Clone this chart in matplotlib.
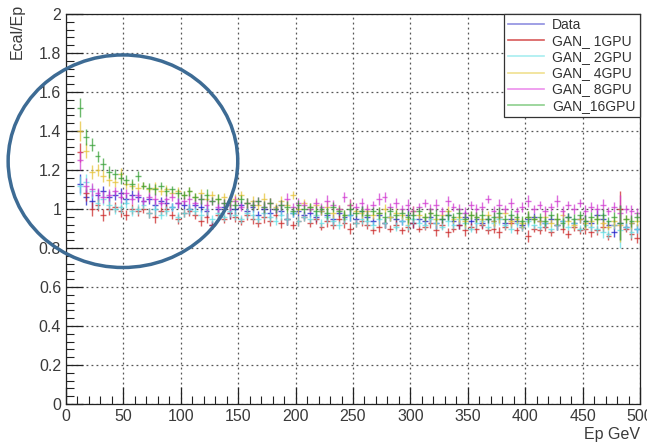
import numpy as np
import matplotlib
matplotlib.use("Agg")
import matplotlib.pyplot as plt
from matplotlib.patches import Ellipse
from matplotlib.lines import Line2D
from matplotlib.ticker import MultipleLocator

plt.rcParams['font.family'] = ['Liberation Sans Narrow', 'Liberation Sans', 'DejaVu Sans']

# bin centres, 5 GeV bins
ep = np.arange(12.5, 500, 5.0)
half_bin = 2.5

data = [1.13, 1.06, 1.04, 1.07, 1.09, 1.06, 1.07, 1.08, 1.05, 1.07,
        1.06, 1.04, 1.05, 1.02, 1.04, 1.03, 1.01, 1.03, 1.02, 1.00,
        1.02, 1.01, 0.99, 0.92, 1.00, 1.01, 0.98, 1.00, 1.02, 0.99,
        1.01, 0.97, 1.00, 0.98, 1.00, 0.99, 0.95, 0.98, 0.99, 0.97,
        0.98, 0.96, 0.99, 0.97, 0.95, 0.98, 0.96, 0.97, 0.95, 0.99,
        0.96, 0.94, 0.97, 0.93, 0.96, 0.95, 0.94, 0.97, 0.93, 0.95,
        0.94, 0.96, 0.93, 0.95, 0.97, 0.94, 0.92, 0.96, 0.94, 0.95,
        0.93, 0.95, 0.94, 0.96, 0.93, 0.95, 0.94, 0.92, 0.95, 0.96,
        0.94, 0.93, 0.95, 0.92, 0.94, 0.96, 0.93, 0.95, 0.94, 0.93,
        0.97, 0.95, 0.92, 0.88, 0.93, 0.91, 0.93, 0.90]

gan_1gpu = [1.29, 1.08, 1.00, 1.02, 0.97, 1.00, 1.01, 0.99, 0.97, 1.00,
            0.99, 1.00, 0.98, 0.96, 0.99, 1.00, 0.97, 0.95, 0.98, 0.99,
            0.97, 0.94, 0.96, 0.92, 0.97, 0.95, 0.98, 0.96, 0.94, 0.97,
            0.95, 0.93, 0.96, 0.94, 0.97, 0.93, 0.95, 0.92, 0.94, 0.96,
            0.93, 0.95, 0.91, 0.94, 0.92, 0.95, 0.93, 0.90, 0.93, 0.94,
            0.92, 0.89, 0.91, 0.93, 0.90, 0.92, 0.89, 0.91, 0.93, 0.90,
            0.91, 0.93, 0.89, 0.92, 0.88, 0.90, 0.92, 0.89, 0.91, 0.90,
            0.92, 0.89, 0.90, 0.88, 0.91, 0.93, 0.89, 0.91, 0.86, 0.90,
            0.89, 0.91, 0.88, 0.92, 0.90, 0.87, 0.91, 0.89, 0.90, 0.88,
            0.89, 0.91, 0.86, 0.92, 1.00, 0.90, 0.87, 0.85]

gan_2gpu = [1.12, 1.14, 1.09, 1.03, 1.05, 1.02, 1.00, 1.01, 1.03, 0.99,
            1.00, 1.02, 0.98, 1.00, 0.97, 0.99, 1.01, 0.96, 0.98, 1.00,
            0.99, 0.97, 1.00, 0.95, 0.98, 0.96, 0.99, 0.97, 0.95, 0.98,
            0.97, 0.95, 0.98, 0.96, 0.94, 0.97, 0.95, 0.98, 0.94, 0.96,
            0.95, 0.97, 0.93, 0.96, 0.94, 0.92, 0.95, 0.97, 0.93, 0.95,
            0.94, 0.92, 0.95, 0.93, 0.96, 0.91, 0.94, 0.92, 0.95, 0.93,
            0.92, 0.95, 0.93, 0.91, 0.94, 0.92, 0.95, 0.93, 0.90, 0.93,
            0.94, 0.91, 0.93, 0.95, 0.92, 0.90, 0.93, 0.91, 0.94, 0.92,
            0.91, 0.93, 0.90, 0.92, 0.94, 0.91, 0.93, 0.90, 0.92, 0.91,
            0.90, 0.88, 0.87, 0.92, 0.89, 0.91, 0.88, 0.90]

gan_4gpu = [1.40, 1.30, 1.19, 1.20, 1.17, 1.15, 1.14, 1.18, 1.13, 1.12,
            1.11, 1.12, 1.10, 1.11, 1.09, 1.10, 1.08, 1.09, 1.07, 1.09,
            1.06, 1.08, 1.05, 1.07, 1.05, 1.06, 1.04, 1.05, 1.07, 1.03,
            1.04, 1.02, 1.05, 1.03, 1.01, 1.04, 1.02, 1.07, 1.00, 1.03,
            1.01, 1.02, 0.99, 1.01, 0.98, 1.00, 0.97, 1.02, 0.99, 0.98,
            0.99, 0.97, 0.98, 1.00, 0.96, 0.98, 0.97, 0.95, 0.99, 0.97,
            0.96, 0.98, 0.95, 0.97, 0.99, 0.95, 0.96, 0.94, 0.97, 0.96,
            0.95, 0.97, 0.94, 0.96, 0.98, 0.94, 0.95, 0.93, 0.96, 0.95,
            0.94, 0.96, 0.93, 0.95, 0.97, 0.94, 0.92, 0.95, 0.93, 0.94,
            0.95, 0.93, 0.91, 0.94, 0.92, 0.95, 0.93, 0.94]

gan_8gpu = [1.25, 1.12, 1.10, 1.08, 1.06, 1.07, 1.09, 1.06, 1.08, 1.05,
            1.07, 1.04, 1.06, 1.05, 1.03, 1.05, 1.06, 1.03, 1.04, 1.05,
            1.03, 1.05, 1.02, 1.04, 1.01, 1.03, 1.02, 1.04, 1.01, 1.03,
            1.02, 1.04, 1.01, 1.03, 1.00, 1.02, 1.05, 1.01, 1.03, 1.02,
            1.00, 1.03, 1.01, 1.04, 1.02, 1.00, 1.06, 1.02, 1.01, 1.03,
            1.00, 1.02, 1.05, 1.06, 1.01, 1.03, 1.00, 1.02, 0.99, 1.01,
            1.03, 1.00, 1.02, 0.99, 1.04, 1.01, 1.00, 0.98, 1.02, 1.00,
            1.01, 1.05, 0.99, 1.02, 1.00, 1.03, 0.99, 1.01, 1.04, 1.00,
            1.02, 0.99, 1.01, 1.04, 0.99, 1.02, 1.00, 1.03, 0.99, 1.01,
            1.00, 1.02, 0.99, 1.01, 0.98, 1.00, 0.99, 0.98]

gan_16gpu = [1.52, 1.37, 1.33, 1.27, 1.23, 1.19, 1.18, 1.16, 1.15, 1.13,
             1.17, 1.12, 1.11, 1.10, 1.12, 1.09, 1.10, 1.08, 1.07, 1.09,
             1.06, 1.05, 1.07, 1.04, 1.05, 1.03, 1.04, 1.02, 1.05, 1.03,
             1.02, 1.04, 1.01, 1.03, 1.00, 1.02, 1.01, 0.99, 1.02, 1.00,
             1.01, 0.99, 1.00, 0.98, 1.01, 0.99, 0.97, 1.00, 0.98, 0.99,
             0.97, 0.99, 0.98, 0.96, 0.99, 0.97, 0.98, 0.96, 0.97, 0.99,
             0.96, 0.98, 0.97, 0.95, 0.97, 0.96, 0.98, 0.95, 0.97, 0.96,
             0.97, 0.95, 0.96, 0.98, 0.95, 0.97, 0.96, 0.94, 0.96, 0.95,
             0.96, 0.94, 0.97, 0.95, 0.93, 0.96, 0.95, 0.97, 0.94, 0.96,
             0.95, 0.97, 0.94, 0.96, 0.93, 0.95, 0.94, 0.96]

# shared vertical error per bin
err = [0.05, 0.04, 0.035, 0.03, 0.03, 0.03, 0.025, 0.03, 0.025, 0.025,
       0.025, 0.02, 0.025, 0.03, 0.02, 0.025, 0.02, 0.025, 0.02, 0.025,
       0.02, 0.025, 0.03, 0.02, 0.025, 0.02, 0.03, 0.025, 0.02, 0.025,
       0.025, 0.02, 0.03, 0.025, 0.02, 0.025, 0.03, 0.02, 0.025, 0.02,
       0.02, 0.025, 0.02, 0.03, 0.025, 0.02, 0.025, 0.03, 0.02, 0.025,
       0.025, 0.02, 0.03, 0.025, 0.02, 0.025, 0.02, 0.03, 0.025, 0.02,
       0.02, 0.025, 0.03, 0.02, 0.025, 0.02, 0.025, 0.03, 0.02, 0.025,
       0.025, 0.02, 0.025, 0.03, 0.02, 0.025, 0.02, 0.025, 0.03, 0.02,
       0.02, 0.025, 0.02, 0.03, 0.025, 0.02, 0.025, 0.02, 0.03, 0.025,
       0.025, 0.03, 0.02, 0.025, 0.09, 0.02, 0.03, 0.025]

labels = ["Data", "GAN_ 1GPU", "GAN_ 2GPU", "GAN_ 4GPU", "GAN_ 8GPU", "GAN_16GPU"]
series = [data, gan_1gpu, gan_2gpu, gan_4gpu, gan_8gpu, gan_16gpu]
colors = ["#1c1cc8", "#cc2a2a", "#66e0e6", "#e6c43a", "#d23cd2", "#3aa23a"]
legend_colors = ["#8f8fe0", "#d85a5a", "#a8eef0", "#f0e090", "#ec90ec", "#8ed08e"]

fig = plt.figure(figsize=(6.47, 4.45), dpi=100)
ax = fig.add_axes([66 / 647, 41 / 445, 574 / 647, 390 / 445])

for vals, c in zip(series, colors):
    ax.errorbar(ep, vals, xerr=half_bin, yerr=err, fmt='none',
                ecolor=c, elinewidth=1.0, capsize=0, alpha=0.75)

ax.set_xlim(0, 500)
ax.set_ylim(0, 2)
ax.xaxis.set_major_locator(MultipleLocator(50))
ax.xaxis.set_minor_locator(MultipleLocator(10))
ax.yaxis.set_major_locator(MultipleLocator(0.2))
ax.yaxis.set_minor_locator(MultipleLocator(0.04))
ax.set_yticks(np.arange(0, 2.01, 0.2))
ax.set_yticklabels(["0", "0.2", "0.4", "0.6", "0.8", "1", "1.2", "1.4", "1.6", "1.8", "2"])
ax.tick_params(which='both', direction='in', top=False, right=False,
               labelsize=11.5, labelcolor='#3a3a3a', color='#222222')
ax.tick_params(which='major', length=12, width=0.9)
ax.tick_params(which='minor', length=6, width=0.8)
ax.grid(True, which='major', color='#555555', linestyle=(0, (1.5, 2.5)), linewidth=0.9)
for sp in ax.spines.values():
    sp.set_color('#222222')
    sp.set_linewidth(0.9)

# highlight circle
circ = Ellipse((49.6, 1.245), 200, 1.09, fill=False, edgecolor='#3d6b94',
               linewidth=2.5, clip_on=False, zorder=5)
ax.add_patch(circ)

handles = [Line2D([0], [0], color=c, lw=1.2) for c in legend_colors]
leg = ax.legend(handles, labels, loc='upper right', bbox_to_anchor=(1.0, 1.0),
                fontsize=10, frameon=True, fancybox=False, framealpha=1,
                handlelength=2.6, handletextpad=0.6, labelspacing=0.15,
                borderpad=0.3, borderaxespad=0.0)
leg.get_frame().set_edgecolor('#333333')
leg.get_frame().set_linewidth(0.9)
for t in leg.get_texts():
    t.set_color('#333333')

fig.text(17 / 647, 1 - 4 / 445, "Ecal/Ep", rotation=90, ha='center', va='top',
         fontsize=11.5, color='#3a3a3a')
fig.text(640 / 647, 1 - 435 / 445, "Ep GeV", ha='right', va='center',
         fontsize=11.5, color='#3a3a3a')

fig.savefig("out.png", dpi=100)
